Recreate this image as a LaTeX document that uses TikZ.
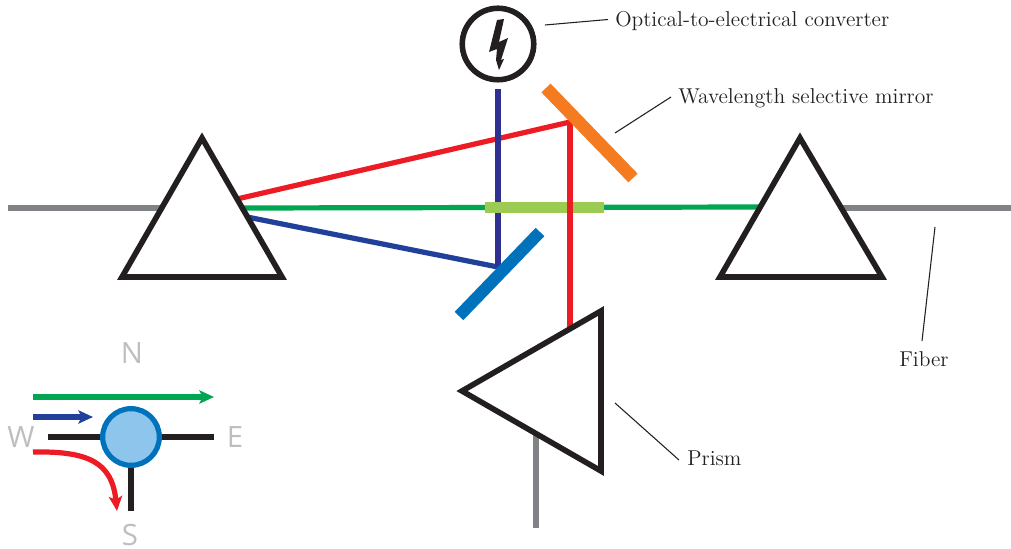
\documentclass[tikz,border=0pt]{standalone}
\usepackage{fontspec}
\usepackage{graphicx}
\newfontfamily\compfont{Open Sans}
\usetikzlibrary{arrows.meta}
\definecolor{dk}{HTML}{231F20}
\definecolor{fib}{HTML}{808285}
\definecolor{rd}{HTML}{ED1C24}
\definecolor{bl}{HTML}{21409A}
\definecolor{bv}{HTML}{2E3192}
\definecolor{gr}{HTML}{00A651}
\definecolor{lg}{HTML}{9BCB52}
\definecolor{org}{HTML}{F47B20}
\definecolor{mb}{HTML}{0072BC}
\definecolor{lb}{HTML}{8EC5EC}
\definecolor{cp}{HTML}{BCBEC0}
\newcommand{\labtext}[1]{\scalebox{1.342}{\fontsize{12}{14}\selectfont #1}}
\begin{document}
\begin{tikzpicture}[x=0.75pt,y=-0.75pt,
  prism/.style={draw=dk,line width=4.2pt,miter limit=10,line join=miter},
  beam/.style={line width=3.9pt},
  fibre/.style={draw=fib,line width=4pt},
  lead/.style={draw=dk,line width=0.8pt},
  lab/.style={inner sep=0pt,anchor=west,text=dk},
  comp/.style={text=cp,inner sep=0pt,font=\compfont\fontsize{22}{26}\selectfont},
  port/.style={draw=dk,line width=4.1pt},
  tip/.style={-{Stealth[length=11pt,width=10pt,inset=2.5pt]}}]
\useasboundingbox (0,0) rectangle (1011,549);
% fibres
\coordinate (fl0) at (8,208); \coordinate (fl1) at (162,208);
\coordinate (fr0) at (841,208); \coordinate (fr1) at (1011,208);
\coordinate (fb0) at (536,435); \coordinate (fb1) at (536,528);
\draw[fibre] (fl0)--(fl1);
\draw[fibre] (fr0)--(fr1);
\draw[fibre] (fb0)--(fb1);
% beams
\coordinate (pl) at (242,208); \coordinate (pr) at (760,207);
\coordinate (redA) at (237,199); \coordinate (redB) at (570,122); \coordinate (redC) at (570,327);
\coordinate (blA) at (247,217); \coordinate (blB) at (498,267); \coordinate (blC) at (498,89);
\draw[beam,draw=gr] (pl)--(pr);
\draw[beam,draw=rd,line join=miter] (redA)--(redB)--(redC);
\draw[beam,draw=bl] (blA)--(blB);
\draw[beam,draw=bv] (blB)--(blC);
% mirrors
\coordinate (m1a) at (485,207.5); \coordinate (m1b) at (604,207.5);
\coordinate (m2a) at (459,316); \coordinate (m2b) at (540,232);
\coordinate (m3a) at (546,88); \coordinate (m3b) at (633,178);
\draw[draw=lg,line width=8pt] (m1a)--(m1b);
\draw[beam,draw=rd] (redB)--(redC);
\draw[draw=mb,line width=9pt] (m2a)--(m2b);
\draw[draw=org,line width=9.5pt] (m3a)--(m3b);
% prisms
\draw[prism] (202,138)--(282,277)--(122,277)--cycle;
\draw[prism] (800,138)--(882,277)--(720,277)--cycle;
\draw[prism] (601,311)--(601,471)--(462,391)--cycle;
% converter
\node (oec) [circle,draw=dk,line width=4.2pt,minimum size=53.6pt,inner sep=0pt] at (498,44) {};
\fill[dk] (504,19)--(497,20)--(489,52)--(497,49)--(496,60)--(499,70)--(504,59)--(501,60)--(508,38)--(499,42)--cycle;
% labels
\node (t1) [lab] at (615,21) {\labtext{Optical-to-electrical converter}};
\node (t2) [lab] at (678,98.5) {\labtext{Wavelength selective mirror}};
\node (t3) [lab] at (899,359) {\labtext{Fiber}};
\node (t4) [lab] at (687,458) {\labtext{Prism}};
\coordinate (l1) at (545,25); \coordinate (l1e) at (608,19.5);
\coordinate (l2) at (615,133); \coordinate (l2e) at (671,97);
\coordinate (l3) at (935,227); \coordinate (l3e) at (922,341);
\coordinate (l4) at (615,403); \coordinate (l4e) at (679,460);
\draw[lead] (l1)--(l1e);
\draw[lead] (l2)--(l2e);
\draw[lead] (l3)--(l3e);
\draw[lead] (l4)--(l4e);
% legend
\node (N) [comp] at (132,353) {N};
\node (W) [comp] at (21,437) {W};
\node (E) [comp] at (235,437) {E};
\node (S) [comp] at (130,535) {S};
\node (sw) [circle,draw=mb,fill=lb,line width=3.9pt,minimum size=42.5pt,inner sep=0pt] at (131,437) {};
\coordinate (pw0) at (48,437); \coordinate (pe0) at (214,437); \coordinate (ps0) at (131,511);
\draw[port] (pw0)--(sw.west);
\draw[port] (pe0)--(sw.east);
\draw[port] (ps0)--(sw.south);
\coordinate (a1) at (33,397); \coordinate (a2) at (214,397);
\coordinate (b1) at (33,417); \coordinate (b2) at (93,417);
\coordinate (c1) at (33,452); \coordinate (c2) at (117,511);
\draw[gr,beam,tip] (a1)--(a2);
\draw[bl,beam,tip] (b1)--(b2);
\draw[rd,beam,tip] (c1) .. controls (88,451) and (112,462) .. (c2);
\end{tikzpicture}
\end{document}
